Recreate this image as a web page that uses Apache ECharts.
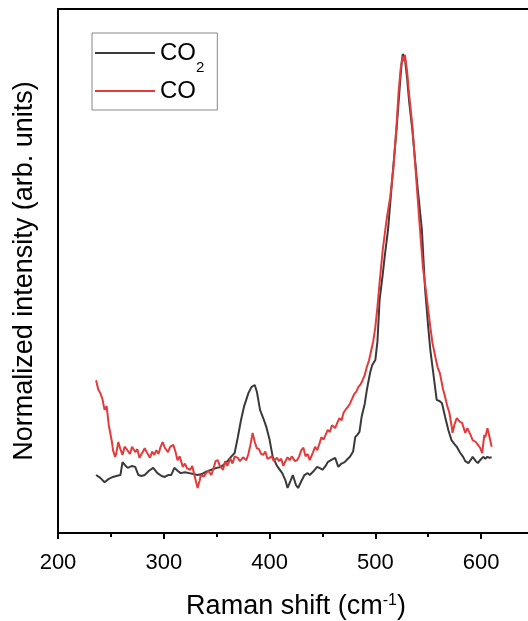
<!DOCTYPE html>
<html>
<head>
<meta charset="utf-8">
<script src="https://cdn.jsdelivr.net/npm/echarts@6/dist/echarts.min.js"></script>
<style>html,body{margin:0;padding:0;background:#fff;overflow:hidden;width:528px;height:621px}#c{position:absolute;left:0;top:0;width:545px;height:621px}</style>
</head>
<body>
<div id="c"></div>
<script>
var xTicks = [200, 300, 400, 500, 600];
var seriesNames = ['CO2', 'CO'];
var co2Points = [
[236,0.121],[240,0.115],[244,0.106],[248,0.113],[252,0.117],[255,0.119],[259,0.121],[261,0.148],[264,0.140],[266,0.136],[270,0.140],[273,0.138],[276,0.121],[279,0.119],[282,0.121],[286,0.130],[290,0.136],[294,0.125],[298,0.119],[301,0.117],[304,0.121],[307,0.121],[310,0.136],[313,0.130],[316,0.125],[320,0.127],[324,0.125],[328,0.123],[332,0.121],[336,0.123],[340,0.128],[345,0.132],[350,0.136],[354,0.138],[358,0.145],[361,0.152],[364,0.160],[367,0.167],[370,0.200],[373,0.236],[376,0.265],[380,0.292],[383,0.305],[386,0.309],[388,0.295],[391,0.257],[394,0.240],[397,0.221],[400,0.195],[403,0.159],[407,0.140],[412,0.125],[415,0.110],[417,0.094],[420,0.110],[422,0.121],[425,0.100],[427,0.094],[430,0.108],[433,0.121],[436,0.125],[438,0.121],[442,0.130],[445,0.138],[448,0.135],[450,0.132],[453,0.140],[455,0.148],[458,0.152],[462,0.157],[465,0.138],[468,0.145],[471,0.148],[474,0.155],[476,0.159],[479,0.170],[481,0.200],[483,0.205],[485,0.211],[487,0.242],[490,0.270],[492,0.299],[495,0.334],[497,0.350],[500,0.361],[502,0.400],[504,0.486],[507,0.540],[509,0.580],[512,0.633],[516,0.740],[520,0.841],[523,0.930],[525,0.985],[526,1.000],[528,0.990],[530,0.950],[532,0.900],[535,0.841],[540,0.720],[544,0.633],[547,0.510],[550,0.430],[552,0.382],[555,0.330],[558,0.278],[561,0.275],[563,0.271],[566,0.242],[569,0.215],[572,0.194],[575,0.185],[577,0.180],[580,0.168],[583,0.159],[585,0.150],[588,0.146],[590,0.152],[592,0.159],[595,0.150],[597,0.146],[599,0.152],[602,0.159],[604,0.155],[606,0.159],[608,0.157],[610,0.158]
];
var coPoints = [
[236,0.319],[238,0.300],[240,0.292],[242,0.280],[244,0.257],[246,0.265],[248,0.225],[249,0.221],[251,0.190],[252,0.173],[254,0.159],[255,0.165],[257,0.190],[259,0.175],[261,0.163],[263,0.180],[265,0.175],[266,0.177],[268,0.165],[270,0.180],[273,0.169],[275,0.175],[277,0.157],[279,0.165],[282,0.177],[284,0.168],[287,0.157],[289,0.170],[291,0.163],[293,0.173],[295,0.165],[297,0.180],[299,0.190],[301,0.178],[304,0.169],[306,0.180],[309,0.184],[311,0.170],[313,0.152],[315,0.160],[318,0.138],[320,0.145],[322,0.135],[325,0.132],[327,0.140],[329,0.120],[332,0.094],[334,0.110],[335,0.121],[338,0.118],[340,0.125],[342,0.130],[345,0.121],[347,0.135],[349,0.150],[351,0.152],[353,0.140],[356,0.132],[358,0.150],[360,0.140],[363,0.155],[365,0.145],[367,0.160],[370,0.157],[372,0.150],[375,0.158],[378,0.152],[380,0.165],[382,0.185],[384,0.209],[386,0.190],[388,0.177],[390,0.175],[392,0.165],[394,0.163],[396,0.170],[398,0.155],[400,0.157],[402,0.160],[404,0.150],[407,0.157],[409,0.150],[411,0.155],[413,0.140],[415,0.150],[417,0.158],[419,0.152],[421,0.160],[424,0.150],[426,0.152],[428,0.160],[430,0.173],[432,0.178],[434,0.160],[436,0.165],[438,0.152],[441,0.168],[443,0.180],[445,0.173],[447,0.185],[449,0.200],[451,0.195],[453,0.205],[455,0.215],[457,0.211],[459,0.225],[462,0.219],[464,0.230],[466,0.240],[468,0.235],[470,0.251],[472,0.258],[474,0.263],[476,0.270],[478,0.280],[480,0.290],[482,0.295],[484,0.305],[486,0.310],[488,0.319],[490,0.330],[492,0.347],[494,0.360],[496,0.380],[498,0.400],[500,0.430],[502,0.472],[504,0.522],[507,0.591],[511,0.660],[514,0.700],[517,0.760],[520,0.850],[522,0.920],[524,0.970],[526,0.995],[527,0.985],[528,0.998],[530,0.965],[532,0.915],[535,0.850],[538,0.760],[540,0.700],[542,0.640],[545,0.555],[547,0.520],[550,0.466],[552,0.430],[554,0.397],[557,0.365],[559,0.345],[561,0.334],[564,0.300],[566,0.284],[568,0.265],[570,0.251],[572,0.225],[573,0.209],[575,0.228],[577,0.240],[580,0.232],[582,0.230],[585,0.209],[587,0.219],[590,0.205],[592,0.194],[595,0.190],[597,0.184],[599,0.178],[601,0.167],[603,0.205],[604,0.200],[606,0.219],[608,0.200],[610,0.180]
];

var FONT = '"Liberation Sans", Arial, sans-serif';
var chart = echarts.init(document.getElementById('c'), null, {renderer: 'canvas', width: 545, height: 621});
chart.setOption({
  animation: false,
  backgroundColor: '#fff',
  textStyle: {fontFamily: FONT},
  grid: {left: 58, top: 9, right: 11, bottom: 88, outerBoundsMode: 'none', containLabel: false,
         show: true, borderColor: '#000', borderWidth: 2, backgroundColor: 'transparent'},
  legend: {
    orient: 'vertical', left: 92, top: 33,
    data: seriesNames,
    icon: 'rect',
    itemWidth: 60, itemHeight: 2, itemGap: 4,
    padding: [8, 13, 7, 3],
    borderColor: '#888', borderWidth: 1,
    textStyle: {fontFamily: FONT, fontSize: 24, color: '#000',
      rich: {
        m: {fontFamily: FONT, fontSize: 24, color: '#000'},
        sub: {fontFamily: FONT, fontSize: 15, color: '#000', verticalAlign: 'bottom', padding: [0,0,-10,0]}
      }},
    formatter: function (n) { return n === 'CO2' ? '{m|CO}{sub|2}' : '{m|' + n + '}'; }
  },
  xAxis: {
    type: 'value', min: 200, max: 650, interval: 100,
    name: '{m|Raman shift (cm}{sup|-1}{m|)}', nameLocation: 'middle', nameGap: 60,
    nameTextStyle: {fontFamily: FONT, fontSize: 27, color: '#000',
      rich: {
        m: {fontFamily: FONT, fontSize: 27, color: '#000'},
        sup: {fontFamily: FONT, fontSize: 16, color: '#000', verticalAlign: 'top', padding: [0,0,10,0]}
      }},
    axisLine: {show: true, lineStyle: {color: '#000', width: 2}},
    axisTick: {show: true, inside: false, length: 6, lineStyle: {color: '#000', width: 2}},
    minorTick: {show: true, splitNumber: 2, length: 4, lineStyle: {color: '#000', width: 2}},
    splitLine: {show: false},
    axisLabel: {fontFamily: FONT, fontSize: 22, color: '#000', margin: 19,
      formatter: function (v) { return xTicks.indexOf(v) >= 0 ? String(v) : ''; }}
  },
  yAxis: {
    type: 'value', min: 0, max: 1.094,
    name: 'Normalized intensity (arb. units)', nameLocation: 'middle', nameGap: 20,
    nameTextStyle: {fontFamily: FONT, fontSize: 27, color: '#000'},
    axisLine: {show: true, lineStyle: {color: '#000', width: 2}},
    axisTick: {show: false}, axisLabel: {show: false}, splitLine: {show: false}
  },
  series: [
    {name: 'CO2', type: 'line', data: co2Points, symbol: 'none', z: 2,
     lineStyle: {color: '#3a3a3a', width: 2}, itemStyle: {color: '#3a3a3a'}},
    {name: 'CO', type: 'line', data: coPoints, symbol: 'none', z: 3,
     lineStyle: {color: '#e33b3b', width: 2}, itemStyle: {color: '#e33b3b'}}
  ]
});
</script>
</body>
</html>
